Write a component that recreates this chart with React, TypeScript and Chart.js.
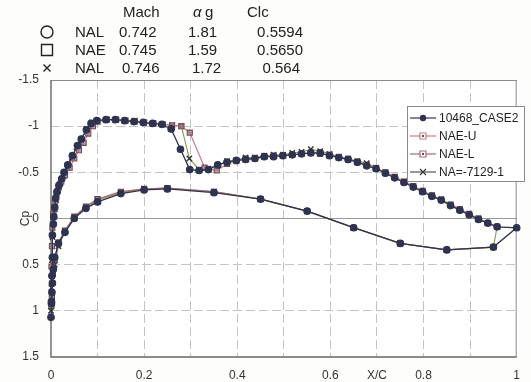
import React, { useEffect, useRef } from "react";
import { Chart, registerables } from "chart.js";

Chart.register(...registerables);

// ---- pressure distribution data (x/c, Cp) ----
// 10468_CASE2: upper surface LE -> TE, trailing-edge point, then lower surface TE -> LE
const caseX = [
  0.0, 0.001, 0.002, 0.002, 0.003, 0.003, 0.005, 0.006, 0.008, 0.01, 0.013, 0.017, 0.023, 0.028,
  0.036, 0.046, 0.057, 0.065, 0.076, 0.086, 0.098, 0.118, 0.138, 0.158, 0.178, 0.198, 0.218,
  0.238, 0.258, 0.278, 0.298, 0.318, 0.338, 0.358, 0.378, 0.398, 0.418, 0.438, 0.458, 0.478,
  0.498, 0.518, 0.538, 0.558, 0.578, 0.598, 0.618, 0.638, 0.658, 0.678, 0.698, 0.718, 0.738,
  0.758, 0.778, 0.798, 0.818, 0.838, 0.858, 0.878, 0.898, 0.918, 0.938, 0.958, 1.0,
  0.95, 0.85, 0.75, 0.65, 0.55, 0.45, 0.35, 0.25, 0.2, 0.15, 0.1, 0.075, 0.05, 0.03, 0.016,
  0.008, 0.005, 0.003, 0.001,
];
const caseCp = [
  1.07, 0.92, 0.8, 0.62, 0.42, 0.18, 0.06, -0.02, -0.12, -0.22, -0.29, -0.36, -0.43, -0.5,
  -0.58, -0.68, -0.79, -0.86, -0.96, -1.03, -1.06, -1.07, -1.07, -1.06, -1.05, -1.04, -1.03,
  -1.02, -0.97, -0.75, -0.53, -0.52, -0.53, -0.58, -0.61, -0.63, -0.64, -0.65, -0.67, -0.67,
  -0.68, -0.69, -0.7, -0.71, -0.71, -0.68, -0.66, -0.64, -0.61, -0.57, -0.54, -0.49, -0.44,
  -0.39, -0.34, -0.29, -0.24, -0.2, -0.14, -0.09, -0.04, 0.01, 0.05, 0.09, 0.1,
  0.31, 0.34, 0.27, 0.1, -0.08, -0.21, -0.28, -0.32, -0.31, -0.27, -0.18, -0.11, 0.0, 0.15, 0.27,
  0.42, 0.55, 0.7, 0.9,
];

// NAE-U: upper surface
const naeUX = [
  0.001, 0.002, 0.003, 0.005, 0.008, 0.012, 0.017, 0.022, 0.03, 0.04, 0.05, 0.06, 0.07, 0.08,
  0.09, 0.1, 0.12, 0.14, 0.16, 0.18, 0.2, 0.22, 0.24, 0.26, 0.28, 0.298, 0.33, 0.356, 0.378,
  0.398, 0.418, 0.438, 0.458, 0.478, 0.498, 0.518, 0.538, 0.558, 0.578, 0.598, 0.618, 0.638,
  0.658, 0.678, 0.698, 0.718, 0.738, 0.758, 0.778, 0.798, 0.818, 0.838, 0.858, 0.878, 0.898,
  0.918, 0.938, 0.958,
];
const naeUCp = [
  0.52, 0.3, 0.1, -0.05, -0.17, -0.27, -0.34, -0.4, -0.47, -0.55, -0.65, -0.74, -0.82, -0.92,
  -1.0, -1.05, -1.07, -1.07, -1.06, -1.05, -1.04, -1.03, -1.02, -1.01, -1.0, -0.93, -0.55, -0.52,
  -0.59, -0.62, -0.64, -0.65, -0.67, -0.68, -0.68, -0.69, -0.7, -0.71, -0.7, -0.69, -0.66, -0.64,
  -0.61, -0.58, -0.54, -0.5, -0.45, -0.4, -0.35, -0.3, -0.25, -0.2, -0.15, -0.1, -0.05, 0.0,
  0.05, 0.09,
];

// NAE-L: lower surface
const naeLX = [
  0.001, 0.002, 0.004, 0.008, 0.016, 0.03, 0.05, 0.075, 0.1, 0.15, 0.2, 0.25, 0.35, 0.45, 0.55,
  0.65, 0.75, 0.85, 0.95,
];
const naeLCp = [
  0.95, 0.85, 0.6, 0.45, 0.26, 0.13, -0.02, -0.13, -0.21, -0.29, -0.32, -0.33, -0.29, -0.21,
  -0.08, 0.1, 0.27, 0.34, 0.31,
];

// NA=-7129-1: upper surface LE -> TE, then lower surface TE -> LE
const naX = [
  0.0, 0.001, 0.002, 0.003, 0.005, 0.008, 0.011, 0.015, 0.02, 0.027, 0.035, 0.045, 0.055, 0.066,
  0.077, 0.088, 0.1, 0.12, 0.14, 0.16, 0.18, 0.2, 0.22, 0.24, 0.26, 0.28, 0.297, 0.318, 0.338,
  0.358, 0.378, 0.398, 0.418, 0.438, 0.458, 0.478, 0.498, 0.518, 0.538, 0.558, 0.578, 0.598,
  0.618, 0.638, 0.658, 0.678, 0.698, 0.718, 0.738, 0.758, 0.778, 0.798, 0.818, 0.838, 0.858,
  0.878, 0.898, 0.918, 0.938, 0.958,
  0.95, 0.85, 0.75, 0.65, 0.55, 0.45, 0.35, 0.25, 0.2, 0.15, 0.1, 0.075, 0.05, 0.03, 0.016, 0.008,
];
const naCp = [
  1.0, 0.75, 0.45, 0.2, 0.03, -0.1, -0.2, -0.3, -0.38, -0.46, -0.55, -0.66, -0.77, -0.86, -0.97,
  -1.04, -1.06, -1.07, -1.07, -1.06, -1.06, -1.04, -1.03, -1.02, -1.01, -1.0, -0.65, -0.53, -0.54,
  -0.58, -0.62, -0.63, -0.66, -0.66, -0.68, -0.69, -0.69, -0.71, -0.72, -0.75, -0.73, -0.7,
  -0.67, -0.65, -0.62, -0.6, -0.55, -0.5, -0.45, -0.4, -0.35, -0.29, -0.25, -0.21, -0.15, -0.1,
  -0.04, 0.0, 0.05, 0.09,
  0.31, 0.34, 0.27, 0.1, -0.08, -0.21, -0.29, -0.33, -0.32, -0.28, -0.2, -0.12, -0.01, 0.14, 0.3,
  0.5,
];

// axis ticks
const xTickValues = [0, 0.2, 0.4, 0.6, 0.7, 0.8, 1];
const xTickText = ["0", "0.2", "0.4", "0.6", "X/C", "0.8", "1"];
const yTickValues = [-1.5, -1, -0.5, 0, 0.5, 1, 1.5];
const yTickText = ["-1.5", "-1", "-0.5", "0", "0.5", "1", "1.5"];

// run conditions table
const runHeaders = ["Mach", "α g", "Clc"];
const runSymbols = ["circle", "square", "cross"];
const runNames = ["NAL", "NAE", "NAL"];
const runMach = ["0.742", "0.745", "0.746"];
const runAlpha = ["1.81", "1.59", "1.72"];
const runClc = ["0.5594", "0.5650", "0.564"];

// legend
const seriesNames = ["10468_CASE2", "NAE-U", "NAE-L", "NA=-7129-1"];

const FONT = "'Liberation Sans', Arial, sans-serif";
const INK = "#222";

const toPoints = (xs: number[], ys: number[]) => xs.map((x, i) => ({ x, y: ys[i] }));

const lookup = (values: number[], texts: string[], v: number) => {
  const i = values.findIndex((t) => Math.abs(t - v) < 1e-6);
  return i >= 0 ? texts[i] : "";
};

function drawMarker(ctx: CanvasRenderingContext2D, kind: string, x: number, y: number, r: number) {
  ctx.beginPath();
  if (kind === "circle") {
    ctx.arc(x, y, r, 0, Math.PI * 2);
  } else if (kind === "square") {
    ctx.rect(x - r, y - r, r * 2, r * 2);
  } else {
    ctx.moveTo(x - r, y - r);
    ctx.lineTo(x + r, y + r);
    ctx.moveTo(x + r, y - r);
    ctx.lineTo(x - r, y + r);
  }
}

const styles = [
  { line: "#2e3350", lineWidth: 1.3, point: "circle", pb: "#2e3350", pf: "#2e3350", r: 3.3 },
  { line: "#cc7a86", lineWidth: 1.2, point: "rect", pb: "#7a4a56", pf: "rgba(150,130,135,0.75)", r: 3.6 },
  { line: "#a86a74", lineWidth: 1.3, point: "rect", pb: "#5a4048", pf: "rgba(120,110,112,0.75)", r: 3.6 },
  { line: "#849a48", lineWidth: 1.1, point: "crossRot", pb: "#333", pf: "#333", r: 3.8 },
];

const decorPlugin = {
  id: "decor",
  beforeDraw(chart: any) {
    const { ctx, width, height } = chart;
    ctx.save();
    ctx.fillStyle = "#fdfdfb";
    ctx.fillRect(0, 0, width, height);
    const a = chart.chartArea;
    ctx.fillStyle = "#ffffff";
    ctx.fillRect(a.left, a.top, a.right - a.left, a.bottom - a.top);
    ctx.restore();
  },
  beforeDatasetsDraw(chart: any) {
    const { ctx } = chart;
    const a = chart.chartArea;
    ctx.save();
    ctx.lineWidth = 1;
    ctx.strokeStyle = "#8a8a8a";
    ctx.beginPath();
    ctx.moveTo(a.left, a.top + 0.5);
    ctx.lineTo(a.right, a.top + 0.5);
    ctx.moveTo(a.right - 0.5, a.top);
    ctx.lineTo(a.right - 0.5, a.bottom);
    ctx.stroke();
    ctx.strokeStyle = "#666";
    ctx.lineWidth = 1.4;
    ctx.beginPath();
    ctx.moveTo(a.left, a.top);
    ctx.lineTo(a.left, a.bottom);
    ctx.lineTo(a.right, a.bottom);
    ctx.stroke();
    ctx.restore();
  },
  afterDraw(chart: any) {
    const { ctx } = chart;
    const yScale = chart.scales.y;
    ctx.save();

    // rotated axis name beside the zero tick
    ctx.fillStyle = "#333";
    ctx.font = `12px ${FONT}`;
    ctx.textAlign = "center";
    ctx.textBaseline = "middle";
    ctx.translate(26, yScale.getPixelForValue(0));
    ctx.rotate(-Math.PI / 2);
    ctx.fillText("Cp", 0, 0);
    ctx.setTransform(1, 0, 0, 1, 0, 0);

    // run conditions table
    ctx.fillStyle = INK;
    ctx.strokeStyle = INK;
    ctx.font = `15px ${FONT}`;
    ctx.textBaseline = "alphabetic";
    ctx.textAlign = "left";
    ctx.fillText(runHeaders[0], 123, 17);
    ctx.font = `italic 15px ${FONT}`;
    ctx.fillText("α", 193, 17);
    ctx.font = `15px ${FONT}`;
    ctx.fillText("g", 205, 17);
    ctx.fillText(runHeaders[2], 247, 17);
    const rowBase = [37, 55, 73];
    runNames.forEach((name, i) => {
      const b = rowBase[i];
      ctx.lineWidth = 1.4;
      const kind = runSymbols[i];
      drawMarker(ctx, kind, 47, b - 5, kind === "circle" ? 6 : kind === "square" ? 5.5 : 3.5);
      ctx.stroke();
      ctx.textAlign = "left";
      ctx.fillText(name, 75, b);
      ctx.fillText(runMach[i], 119 + (i === 2 ? 3 : 0), b);
      ctx.fillText(runAlpha[i], 188 + (i === 2 ? 4 : 0), b);
      ctx.textAlign = "right";
      ctx.fillText(runClc[i], i === 2 ? 300 : 303, b);
    });

    // legend box
    const lx = 407, ly = 106, lw = 117, lh = 75;
    ctx.fillStyle = "#ffffff";
    ctx.fillRect(lx, ly, lw, lh);
    ctx.strokeStyle = "#8a8a8a";
    ctx.lineWidth = 1;
    ctx.strokeRect(lx + 0.5, ly + 0.5, lw, lh);
    ctx.font = `12px ${FONT}`;
    ctx.textAlign = "left";
    ctx.textBaseline = "middle";
    seriesNames.forEach((name, i) => {
      const s = styles[i];
      const y = ly + 12 + i * 18;
      ctx.strokeStyle = i === 3 ? "#555" : s.line;
      ctx.lineWidth = 1.2;
      ctx.beginPath();
      ctx.moveTo(lx + 3, y);
      ctx.lineTo(lx + 29, y);
      ctx.stroke();
      const kind = s.point === "circle" ? "circle" : s.point === "rect" ? "square" : "cross";
      ctx.fillStyle = kind === "square" ? "#ffffff" : s.pf;
      ctx.strokeStyle = kind === "square" ? s.line : s.pb;
      ctx.lineWidth = 1.2;
      drawMarker(ctx, kind, lx + 16, y, kind === "circle" ? 2.6 : 3);
      if (kind !== "cross") ctx.fill();
      ctx.stroke();
      if (kind === "square") {
        ctx.fillStyle = "#6a4a52";
        ctx.fillRect(lx + 15, y - 1, 2, 2);
      }
      ctx.fillStyle = INK;
      ctx.fillText(name, lx + 32, y + 1);
    });
    ctx.restore();
  },
};

export default function App() {
  const canvasRef = useRef<HTMLCanvasElement | null>(null);

  useEffect(() => {
    const canvas = canvasRef.current;
    if (!canvas) return;
    const series = [
      toPoints(caseX, caseCp),
      toPoints(naeUX, naeUCp),
      toPoints(naeLX, naeLCp),
      toPoints(naX, naCp),
    ];
    const chart = new Chart(canvas, {
      type: "line",
      data: {
        datasets: series.map((data, i) => {
          const s = styles[i];
          return {
            label: seriesNames[i],
            data,
            borderColor: s.line,
            borderWidth: s.lineWidth,
            pointStyle: s.point,
            pointRadius: s.r,
            pointBorderColor: s.pb,
            pointBackgroundColor: s.pf,
            pointBorderWidth: i === 3 ? 1.5 : 1.1,
            tension: 0,
            fill: false,
            clip: 8,
          };
        }),
      },
      plugins: [decorPlugin],
      options: {
        responsive: false,
        animation: false,
        events: [],
        layout: { padding: { top: 80, right: 5, left: 0, bottom: 0 } },
        plugins: { legend: { display: false }, tooltip: { enabled: false }, title: { display: false } },
        scales: {
          x: {
            type: "linear",
            min: 0,
            max: 1,
            afterFit: (scale: any) => {
              scale.height = 25;
            },
            ticks: {
              stepSize: 0.1,
              autoSkip: false,
              maxRotation: 0,
              padding: 11,
              color: "#333",
              font: { family: FONT, size: 12 },
              callback: (v: any) => lookup(xTickValues, xTickText, Number(v)),
            },
            grid: {
              drawTicks: false,
              lineWidth: 1,
              color: (ctx: any) => {
                const v = ctx.tick ? ctx.tick.value : 0;
                return v <= 1e-6 || v >= 1 - 1e-6 ? "rgba(0,0,0,0)" : "#c4c4c4";
              },
            },
            border: { display: false, dash: [9, 4] },
          },
          y: {
            type: "linear",
            min: -1.5,
            max: 1.5,
            reverse: true,
            afterFit: (scale: any) => {
              scale.width = 51;
            },
            ticks: {
              stepSize: 0.5,
              autoSkip: false,
              padding: 12,
              color: "#333",
              font: { family: FONT, size: 12 },
              callback: (v: any) => lookup(yTickValues, yTickText, Number(v)),
            },
            grid: {
              drawTicks: false,
              lineWidth: 1,
              color: (ctx: any) => {
                const v = ctx.tick ? ctx.tick.value : 0;
                if (Math.abs(Math.abs(v) - 1.5) < 1e-6) return "rgba(0,0,0,0)";
                return Math.abs(v) < 1e-6 ? "#9a9a9a" : "#c4c4c4";
              },
            },
            border: {
              display: false,
              dash: (ctx: any) => (ctx.tick && Math.abs(ctx.tick.value) < 1e-6 ? [] : [9, 4]),
            },
          },
        },
      },
    } as any);
    return () => chart.destroy();
  }, []);

  return (
    <div style={{ position: "fixed", left: 0, top: 0, width: 531, height: 382 }}>
      <canvas ref={canvasRef} width={531} height={382} style={{ display: "block" }} />
    </div>
  );
}
